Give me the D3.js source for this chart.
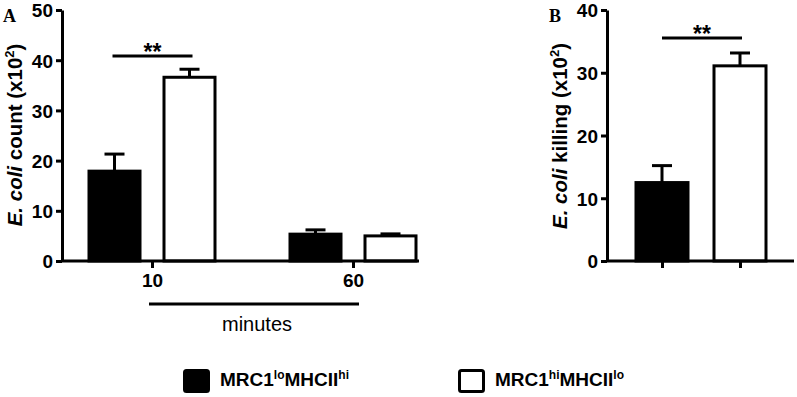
<!DOCTYPE html>
<html>
<head>
<meta charset="utf-8">
<script src="https://cdn.jsdelivr.net/npm/d3@7"></script>
<style>
  body { margin: 0; background: #fff; }
  svg { display: block; font-family: "Liberation Sans", Arial, sans-serif; }
</style>
</head>
<body>
<svg id="chart" width="797" height="397"></svg>
<script>
// data
const timepoints = ['10', '60'];
const groups = ['lohi', 'hilo'];
const countLoHi = [17.9, 5.35];
const countLoHiSem = [3.4, 0.85];
const countHiLo = [36.6, 5.0];
const countHiLoSem = [1.6, 0.4];
const killing = [12.5, 31.1];
const killingSem = [2.7, 2.05];
const countTicks = [0, 10, 20, 30, 40, 50];
const killingTicks = [0, 10, 20, 30, 40];

const svg = d3.select('#chart');
const fillFor = g => g === 'lohi' ? '#000' : '#fff';
const LW = 3;

function yAxis(g, y, ticks) {
  const ax = g.append('g')
    .call(d3.axisLeft(y).tickValues(ticks).tickSizeInner(6).tickSizeOuter(0).tickPadding(3));
  ax.select('.domain').attr('stroke-width', LW);
  ax.selectAll('.tick line').attr('stroke-width', LW);
  ax.selectAll('text').attr('font-size', 19).attr('font-weight', 'bold').attr('fill', '#000')
    .attr('font-family', '"Liberation Sans", Arial, sans-serif').attr('dy', '0.36em');
  return ax;
}

function bars(g, rows, y, bw) {
  const cap = 20;
  g.selectAll('.err').data(rows).enter().append('line')
    .attr('x1', d => d.x).attr('x2', d => d.x)
    .attr('y1', d => y(d.v)).attr('y2', d => y(d.v + d.e))
    .attr('stroke', '#000').attr('stroke-width', LW);
  g.selectAll('.cap').data(rows).enter().append('line')
    .attr('x1', d => d.x - cap / 2).attr('x2', d => d.x + cap / 2)
    .attr('y1', d => y(d.v + d.e)).attr('y2', d => y(d.v + d.e))
    .attr('stroke', '#000').attr('stroke-width', LW);
  g.selectAll('.bar').data(rows).enter().append('rect')
    .attr('x', d => d.x - bw / 2).attr('width', bw)
    .attr('y', d => y(d.v)).attr('height', d => y(0) - y(d.v))
    .attr('fill', d => fillFor(d.g)).attr('stroke', '#000').attr('stroke-width', LW);
}

function sig(g, x1, x2, yy) {
  g.append('line').attr('x1', x1).attr('x2', x2).attr('y1', yy).attr('y2', yy)
    .attr('stroke', '#000').attr('stroke-width', LW);
  g.append('text').attr('x', (x1 + x2) / 2).attr('y', yy + 4).attr('text-anchor', 'middle')
    .attr('font-size', 23).attr('font-weight', 'bold').text('**');
}

function yLabel(g, cx, cy, rest) {
  const t = g.append('text').attr('transform', `translate(${cx},${cy}) rotate(-90)`)
    .attr('text-anchor', 'middle').attr('font-size', 20.5).attr('font-weight', 'bold');
  t.append('tspan').attr('font-style', 'italic').text('E. coli');
  t.append('tspan').text(' ' + rest + ' (x10');
  t.append('tspan').attr('font-size', 13).attr('dy', -8).text('2');
  t.append('tspan').attr('dy', 8).text(')');
}

function panelLetter(x, yy, s) {
  svg.append('text').attr('x', x).attr('y', yy).attr('font-family', '"Liberation Serif", "Times New Roman", serif')
    .attr('font-weight', 'bold').attr('font-size', 18).text(s);
}

// ---- panel A
{
  const g = svg.append('g');
  const y = d3.scaleLinear().domain([0, 50]).range([261, 10]);
  const x = d3.scalePoint().domain(timepoints).range([152, 353]);
  const inner = d3.scalePoint().domain(groups).range([-37.5, 37.5]);
  const rows = [];
  timepoints.forEach((t, i) => {
    rows.push({ g: 'lohi', x: x(t) + inner('lohi'), v: countLoHi[i], e: countLoHiSem[i] });
    rows.push({ g: 'hilo', x: x(t) + inner('hilo'), v: countHiLo[i], e: countHiLoSem[i] });
  });
  bars(g, rows, y, 51);

  const gx = g.append('g').attr('transform', `translate(0,${y(0)})`)
    .call(d3.axisBottom(x).tickSizeInner(7).tickSizeOuter(0).tickPadding(6));
  gx.select('.domain').remove();
  gx.selectAll('.tick line').attr('stroke-width', LW);
  gx.selectAll('text').attr('font-size', 19).attr('font-weight', 'bold').attr('fill', '#000')
    .attr('font-family', '"Liberation Sans", Arial, sans-serif');
  g.append('line').attr('x1', 61).attr('x2', 419).attr('y1', y(0)).attr('y2', y(0))
    .attr('stroke', '#000').attr('stroke-width', LW);

  g.append('g').attr('transform', 'translate(62,0)').call(ax => yAxis(ax, y, countTicks));

  // minutes bracket
  g.append('line').attr('x1', x('10') - 3).attr('x2', x('60') + 6).attr('y1', 304).attr('y2', 304)
    .attr('stroke', '#000').attr('stroke-width', LW);
  g.append('text').attr('x', 257).attr('y', 331).attr('text-anchor', 'middle')
    .attr('font-size', 20).text('minutes');

  sig(g, x('10') + inner('lohi') - 2, x('10') + inner('hilo') + 3, 56);
  yLabel(g, 22, 135, 'count');
  panelLetter(3, 22, 'A');
}

// ---- panel B
{
  const g = svg.append('g');
  const y = d3.scaleLinear().domain([0, 40]).range([261, 10]);
  const x = d3.scalePoint().domain(groups).range([662, 740]);
  const rows = groups.map((k, i) => ({ g: k, x: x(k), v: killing[i], e: killingSem[i] }));
  bars(g, rows, y, 52);

  const gx = g.append('g').attr('transform', `translate(0,${y(0)})`)
    .call(d3.axisBottom(x).tickSizeInner(7).tickSizeOuter(0).tickFormat(''));
  gx.select('.domain').remove();
  gx.selectAll('.tick line').attr('stroke-width', LW);
  g.append('line').attr('x1', 606).attr('x2', 794).attr('y1', y(0)).attr('y2', y(0))
    .attr('stroke', '#000').attr('stroke-width', LW);

  g.append('g').attr('transform', 'translate(607,0)').call(ax => yAxis(ax, y, killingTicks));

  sig(g, x('lohi'), x('hilo') + 2, 38);
  yLabel(g, 567, 136, 'killing');
  panelLetter(549, 22, 'B');
}

// ---- legend
const legendItems = [
  { g: 'lohi', a: 'lo', b: 'hi', x: 183 },
  { g: 'hilo', a: 'hi', b: 'lo', x: 458 }
];
const lg = svg.append('g');
legendItems.forEach(d => {
  lg.append('rect').attr('x', d.x + 1.5).attr('y', 370.5).attr('width', 24).attr('height', 21).attr('rx', 2)
    .attr('fill', fillFor(d.g)).attr('stroke', '#000').attr('stroke-width', LW);
  const t = lg.append('text').attr('x', d.x + 37).attr('y', 386)
    .attr('font-size', 19).attr('font-weight', 'bold');
  t.append('tspan').text('MRC1');
  t.append('tspan').attr('font-size', 12).attr('dy', -7).text(d.a);
  t.append('tspan').attr('dy', 7).text('MHCII');
  t.append('tspan').attr('font-size', 12).attr('dy', -7).text(d.b);
});
</script>
</body>
</html>
